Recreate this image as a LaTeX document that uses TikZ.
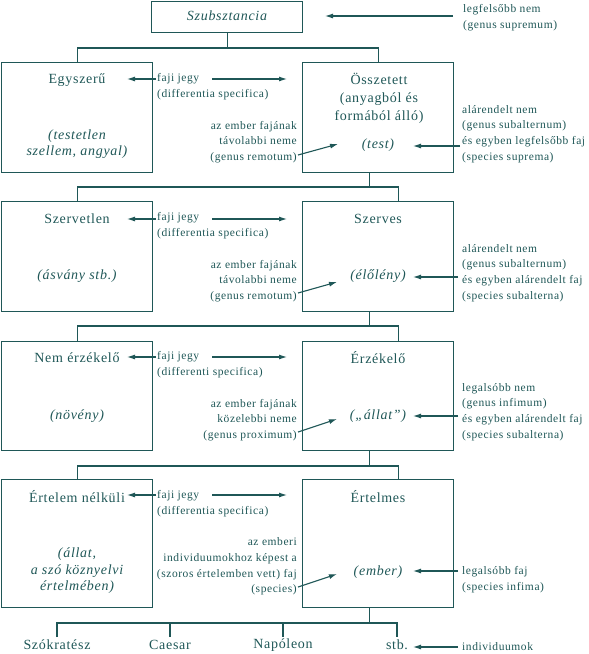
\documentclass[tikz,border=0pt]{standalone}
\usepackage{fontspec}
\setmainfont{Liberation Serif}[LetterSpace=5]
\usetikzlibrary{arrows.meta}
\definecolor{teal1}{RGB}{31,87,87}
\begin{document}
\begin{tikzpicture}[x=1pt,y=-1pt,
  box/.style={draw=teal1, line width=1.1pt, rectangle, inner sep=0, minimum width=151pt, anchor=north west},
  main/.style={text=teal1, font=\fontsize{14}{18}\selectfont, inner sep=0, align=center},
  ital/.style={text=teal1, font=\fontsize{14}{16.5}\selectfont\itshape, inner sep=0, align=center},
  ann/.style={text=teal1, font=\fontsize{11.5}{15.7}\selectfont, inner sep=0},
  conn/.style={draw=teal1, line width=1.1pt},
  arr/.style={conn, -{Latex[length=8pt,width=5pt]}}]
\useasboundingbox (0,0) rectangle (589,654);

% boxes
\node[box, minimum height=31pt] (T) at (151,1) {};
\node[box, minimum height=110pt] (L1) at (1,62) {};
\node[box, minimum height=110pt] (R1) at (302,62) {};
\node[box, minimum height=110pt] (L2) at (1,201) {};
\node[box, minimum height=110pt] (R2) at (302,201) {};
\node[box, minimum height=109pt] (L3) at (1,341) {};
\node[box, minimum height=109pt] (R3) at (302,341) {};
\node[box, minimum height=128pt] (L4) at (1,479) {};
\node[box, minimum height=128pt] (R4) at (302,479) {};

% top
\node[ital] (tT) at (227,16) {Szubsztancia};
\node[ann, anchor=west, align=left] (aT) at (463,17.5) {legfelsőbb nem\\(genus supremum)};
\coordinate (aTs) at (453,16);
\coordinate (aTe) at (325,16);
\draw[arr] (aTs) -- (aTe);

% connectors
\coordinate (H0) at (0,48);
\coordinate (H1) at (0,187);
\coordinate (H2) at (0,326);
\coordinate (H3) at (0,466);
\coordinate (H4) at (0,623);
\coordinate (V4) at (0,637);
\draw[conn] (T.south) -- (T.south |- H0);
\draw[conn] (L1.north) -- (L1.north |- H0) -- (R1.north |- H0) -- (R1.north);
\draw[conn] ([xshift=-9pt]R1.south) -- ([xshift=-9pt]R1.south |- H1);
\draw[conn] (L2.north) -- (L2.north |- H1) -- ([xshift=20pt]R2.north |- H1) -- ([xshift=20pt]R2.north);
\draw[conn] ([xshift=-9pt]R2.south) -- ([xshift=-9pt]R2.south |- H2);
\draw[conn] (L3.north) -- (L3.north |- H2) -- ([xshift=20pt]R3.north |- H2) -- ([xshift=20pt]R3.north);
\draw[conn] ([xshift=-9pt]R3.south) -- ([xshift=-9pt]R3.south |- H3);
\draw[conn] (L4.north) -- (L4.north |- H3) -- ([xshift=20pt]R4.north |- H3) -- ([xshift=20pt]R4.north);
\draw[conn] ([xshift=-9pt]R4.south) -- ([xshift=-9pt]R4.south |- H4);

% row 1
\node[main] (tL1) at (77,80) {Egyszerű};
\node[ital] (iL1) at (77,144) {(testetlen\\szellem, angyal)};
\node[main] (tR1) at (379,98) {Összetett\\(anyagból és\\formából álló)};
\node[ital] (iR1) at (378,145) {(test)};
\node[ann, anchor=west, align=left] (fj1) at (157,86.5) {faji jegy\\(differentia specifica)};
\coordinate (fj1a) at (156,79); \coordinate (fj1b) at (127,79);
\coordinate (fj1c) at (212,79); \coordinate (fj1d) at (287,79);
\draw[arr] (fj1a) -- (fj1b);
\draw[arr] (fj1c) -- (fj1d);
\node[ann, anchor=east, align=right] (g1) at (297,142) {az ember fajának\\távolabbi neme\\(genus remotum)};
\coordinate (g1a) at (298,155); \coordinate (g1b) at (338,144);
\draw[arr] (g1a) -- (g1b);
\node[ann, anchor=west, align=left] (s1) at (462,134) {alárendelt nem\\(genus subalternum)\\és egyben legfelsőbb faj\\(species suprema)};
\coordinate (s1a) at (460,146); \coordinate (s1b) at (413,146);
\draw[arr] (s1a) -- (s1b);

% row 2
\node[main] (tL2) at (77,219) {Szervetlen};
\node[ital] (iL2) at (77,276) {(ásvány stb.)};
\node[main] (tR2) at (378,219) {Szerves};
\node[ital] (iR2) at (378,276) {(élőlény)};
\node[ann, anchor=west, align=left] (fj2) at (157,226) {faji jegy\\(differentia specifica)};
\coordinate (fj2a) at (156,219); \coordinate (fj2b) at (127,219);
\coordinate (fj2c) at (212,219); \coordinate (fj2d) at (287,219);
\draw[arr] (fj2a) -- (fj2b);
\draw[arr] (fj2c) -- (fj2d);
\node[ann, anchor=east, align=right] (g2) at (297,281) {az ember fajának\\távolabbi neme\\(genus remotum)};
\coordinate (g2a) at (298,293); \coordinate (g2b) at (337,282);
\draw[arr] (g2a) -- (g2b);
\node[ann, anchor=west, align=left] (s2) at (462,273) {alárendelt nem\\(genus subalternum)\\és egyben alárendelt faj\\(species subalterna)};
\coordinate (s2a) at (458,277); \coordinate (s2b) at (413,277);
\draw[arr] (s2a) -- (s2b);

% row 3
\node[main] (tL3) at (77,358) {Nem érzékelő};
\node[ital] (iL3) at (77,416) {(növény)};
\node[main] (tR3) at (378,358) {Érzékelő};
\node[ital] (iR3) at (378,416) {(„állat”)};
\node[ann, anchor=west, align=left] (fj3) at (157,365) {faji jegy\\(differenti specifica)};
\coordinate (fj3a) at (156,357); \coordinate (fj3b) at (127,357);
\coordinate (fj3c) at (212,357); \coordinate (fj3d) at (287,357);
\draw[arr] (fj3a) -- (fj3b);
\draw[arr] (fj3c) -- (fj3d);
\node[ann, anchor=east, align=right] (g3) at (297,420) {az ember fajának\\közelebbi neme\\(genus proximum)};
\coordinate (g3a) at (298,432); \coordinate (g3b) at (337,419);
\draw[arr] (g3a) -- (g3b);
\node[ann, anchor=west, align=left] (s3) at (462,412) {legalsóbb nem\\(genus infimum)\\és egyben alárendelt faj\\(species subalterna)};
\coordinate (s3a) at (458,416); \coordinate (s3b) at (413,416);
\draw[arr] (s3a) -- (s3b);

% row 4
\node[main] (tL4) at (77,497) {Értelem nélküli};
\node[ital] (iL4) at (77,571) {(állat,\\a szó köznyelvi\\értelmében)};
\node[main] (tR4) at (378,497) {Értelmes};
\node[ital] (iR4) at (378,572) {(ember)};
\node[ann, anchor=west, align=left] (fj4) at (157,503.5) {faji jegy\\(differentia specifica)};
\coordinate (fj4a) at (156,495); \coordinate (fj4b) at (127,495);
\coordinate (fj4c) at (212,495); \coordinate (fj4d) at (287,495);
\draw[arr] (fj4a) -- (fj4b);
\draw[arr] (fj4c) -- (fj4d);
\node[ann, anchor=east, align=right] (g4) at (297,566.5) {az emberi\\individuumokhoz képest a\\(szoros értelemben vett) faj\\(species)};
\coordinate (g4a) at (298,587); \coordinate (g4b) at (337,574);
\draw[arr] (g4a) -- (g4b);
\node[ann, anchor=west, align=left] (s4) at (462,580) {legalsóbb faj\\(species infima)};
\coordinate (s4a) at (458,571); \coordinate (s4b) at (413,571);
\draw[arr] (s4a) -- (s4b);

% individuals
\node[main] (n1) at (57,645) {Szókratész};
\node[main] (n2) at (170,645) {Caesar};
\node[main] (n3) at (283,645) {Napóleon};
\node[main] (n4) at (397,645) {stb.};
\draw[conn] (n1.north |- V4) -- (n1.north |- H4) -- (n4.north |- H4) -- (n4.north |- V4);
\draw[conn] (n2.north |- H4) -- (n2.north |- V4);
\draw[conn] (n3.north |- H4) -- (n3.north |- V4);
\node[ann, anchor=west] (ind) at (462,647) {individuumok};
\coordinate (inda) at (458,647); \coordinate (indb) at (413,647);
\draw[arr] (inda) -- (indb);
\end{tikzpicture}
\end{document}
